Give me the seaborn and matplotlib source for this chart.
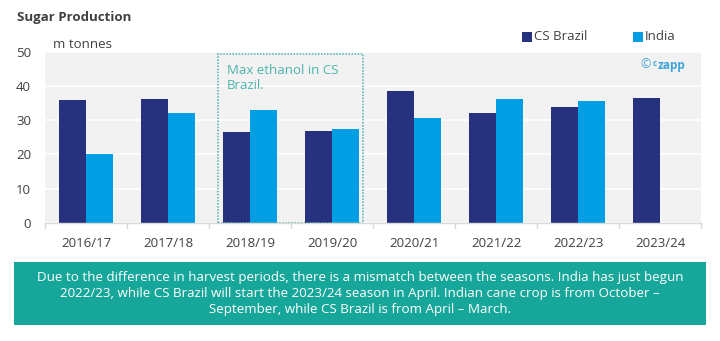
import matplotlib
matplotlib.use("Agg")
import matplotlib.pyplot as plt
import seaborn as sns
import pandas as pd
import numpy as np
from matplotlib.patches import Rectangle

seasons = ["2016/17", "2017/18", "2018/19", "2019/20", "2020/21", "2021/22", "2022/23", "2023/24"]
cs_brazil = [35.8, 36.2, 26.7, 26.9, 38.6, 32.1, 33.8, 36.5]
india = [20.0, 32.1, 33.0, 27.5, 30.6, 36.2, 35.6, np.nan]
series_names = ["CS Brazil", "India"]
yticks = [0, 10, 20, 30, 40, 50]

df = pd.DataFrame({
    "season": seasons * 2,
    "value": cs_brazil + india,
    "series": [series_names[0]] * len(seasons) + [series_names[1]] * len(seasons),
})

sns.set_theme(style="white")
plt.rcParams["font.family"] = ["Open Sans", "DejaVu Sans"]

NAVY = "#27327e"
BLUE = "#009fe3"
TEAL = "#17a79a"
TEXT = "#404040"

fig = plt.figure(figsize=(7.2, 3.41), dpi=100)
ax = fig.add_axes([45 / 720, 1 - 222.7 / 341, (701 - 45) / 720, (222.7 - 52) / 341])

sns.barplot(data=df, x="season", y="value", hue="series", order=seasons,
            hue_order=series_names, palette=[NAVY, BLUE], width=0.66,
            saturation=1, linewidth=0, ax=ax, legend=False, errorbar=None)

ax.set_facecolor("#f2f2f2")
ax.set_ylim(0, 50)
ax.set_xlim(-0.5, len(seasons) - 0.5)
ax.set_yticks(yticks)
ax.set_yticklabels([str(v) for v in yticks], fontsize=9.5, color=TEXT)
ax.yaxis.grid(True, color="white", linewidth=1.2)
ax.set_axisbelow(True)
ax.set_xlabel("")
ax.set_ylabel("")
for s in ["top", "right", "left"]:
    ax.spines[s].set_visible(False)
ax.spines["bottom"].set_color("#d9d9d9")
ax.spines["bottom"].set_linewidth(1)
ax.tick_params(axis="y", length=0, pad=10)
ax.tick_params(axis="x", length=0, pad=10, labelsize=9.5, labelcolor=TEXT)
# category boundary ticks
for b in np.arange(-0.5, len(seasons), 1.0):
    ax.plot([b, b], [0, -1.6], color="#d9d9d9", lw=1, clip_on=False)

# dotted annotation box
box = Rectangle((1.61, 0), 3.38 - 1.61, 49.4, fill=False, edgecolor="#4bb3ac",
                linestyle=(0, (1, 1)), linewidth=1.1, zorder=3)
ax.add_patch(box)
ax.text(1.72, 46.5, "Max ethanol in CS\nBrazil.", color="#4db6ac", fontsize=9.5,
        va="top", ha="left", linespacing=1.25)

# title and unit
fig.text(17 / 720, 1 - 18 / 341, "Sugar Production", fontsize=9.5, fontweight="bold",
         color=TEXT, va="center", ha="left")
fig.text(53 / 720, 1 - 44 / 341, "m tonnes", fontsize=9.5, color=TEXT, va="center", ha="left")

# legend
for xp, col, lab in [(522, NAVY, series_names[0]), (633, BLUE, series_names[1])]:
    fig.patches.append(Rectangle((xp / 720, 1 - 42 / 341), 10 / 720, 10 / 341,
                                 transform=fig.transFigure, facecolor=col, edgecolor="none"))
    fig.text((xp + 12) / 720, 1 - 37 / 341, lab, fontsize=9.5, color=TEXT, va="center", ha="left")

# czapp mark
fig.text(640 / 720, 1 - 65 / 341, "©", fontsize=9, color="#3fa3dc", va="center", ha="left")
fig.text(653 / 720, 1 - 63 / 341, "c", fontsize=5.5, color="#3fa3dc", va="center", ha="left",
         fontweight="bold")
fig.text(658 / 720, 1 - 65 / 341, "zapp", fontsize=8.5, color="#3fa3dc", va="center", ha="left",
         fontweight="bold")

# footer box
fig.patches.append(Rectangle((14 / 720, 1 - 325 / 341), (706 - 14) / 720, (325 - 262) / 341,
                             transform=fig.transFigure, facecolor=TEAL, edgecolor="none"))
footer = ("Due to the difference in harvest periods, there is a mismatch between the seasons. India has just begun\n"
          "2022/23, while CS Brazil will start the 2023/24 season in April. Indian cane crop is from October \u2013\n"
          "September, while CS Brazil is from April \u2013 March.")
fig.text(360 / 720, 1 - 293.5 / 341, footer, fontsize=9.6, color="white", ha="center", va="center",
         linespacing=1.3)

fig.savefig("out.png", dpi=100)
